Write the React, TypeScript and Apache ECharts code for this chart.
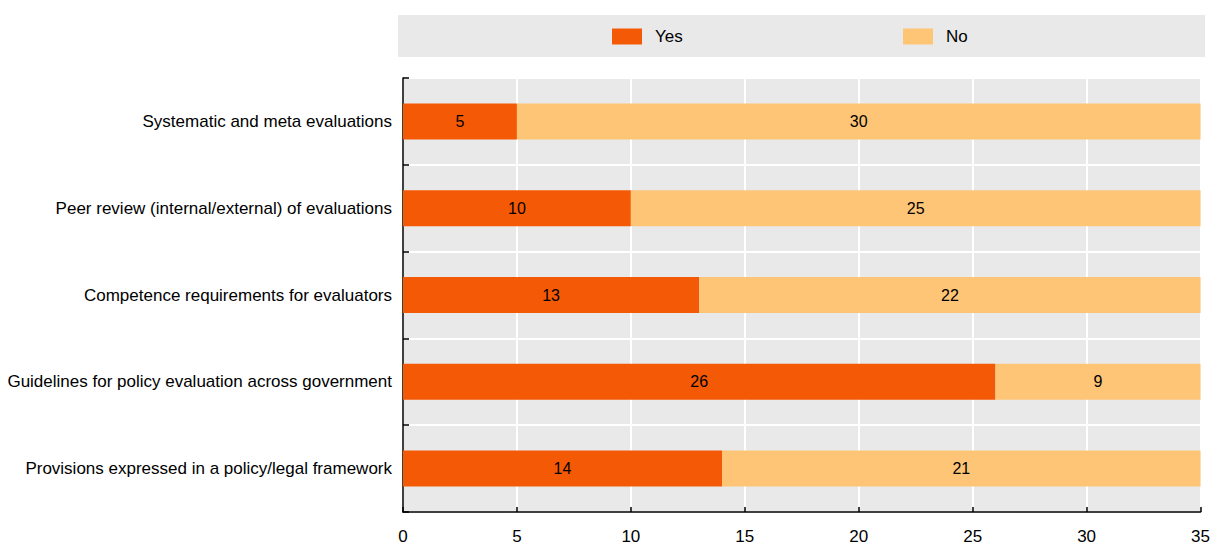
import React, { useEffect, useRef } from "react";
import * as echarts from "echarts";

const categories = [
  "Systematic and meta evaluations",
  "Peer review (internal/external) of evaluations",
  "Competence requirements for evaluators",
  "Guidelines for policy evaluation across government",
  "Provisions expressed in a policy/legal framework",
];
const yesValues = [5, 10, 13, 26, 14];
const noValues = [30, 25, 22, 9, 21];

const FONT = "'Liberation Sans Narrow', 'Arial Narrow', 'Liberation Sans', sans-serif";
const YES_COLOR = "#F45905";
const NO_COLOR = "#FEC577";

const legendText = {
  fontFamily: FONT,
  fontSize: 17,
  color: "#000",
  padding: [0, 0, 0, 8],
};

export default function App() {
  const ref = useRef<HTMLDivElement>(null);

  useEffect(() => {
    document.body.style.margin = "0";
    if (!ref.current) return;
    const chart = echarts.init(ref.current, undefined, { renderer: "svg" });
    chart.setOption({
      animation: false,
      textStyle: { fontFamily: FONT },
      graphic: [
        {
          type: "rect",
          left: 398,
          top: 15,
          shape: { width: 807, height: 42 },
          style: { fill: "#E9E9E9" },
          z: -1,
        },
      ],
      legend: [
        {
          data: ["Yes"],
          left: 612,
          top: 28,
          padding: 0,
          itemWidth: 30,
          itemHeight: 16,
          textStyle: legendText,
          icon: "rect",
        },
        {
          data: ["No"],
          left: 903,
          top: 28,
          padding: 0,
          itemWidth: 30,
          itemHeight: 16,
          textStyle: legendText,
          icon: "rect",
        },
      ],
      grid: {
        left: 403,
        right: 6,
        top: 78,
        bottom: 33,
        containLabel: false,
        show: true,
        backgroundColor: "#E9E9E9",
        borderWidth: 0,
      },
      xAxis: {
        type: "value",
        min: 0,
        max: 35,
        interval: 5,
        axisLine: { show: true, lineStyle: { color: "#000", width: 1.5 } },
        axisTick: { show: true, inside: true, length: 5, lineStyle: { color: "#000", width: 1.5 } },
        axisLabel: { color: "#000", fontSize: 17, margin: 16, fontFamily: FONT },
        splitLine: { show: true, lineStyle: { color: "#FFFFFF", width: 2 } },
      },
      yAxis: {
        type: "category",
        inverse: true,
        data: categories,
        axisLine: { show: true, lineStyle: { color: "#000", width: 1.5 } },
        axisTick: { show: true, inside: true, length: 6, lineStyle: { color: "#000", width: 1.5 } },
        axisLabel: { color: "#000", fontSize: 17, margin: 11, fontFamily: FONT },
        splitLine: { show: true, lineStyle: { color: "#FFFFFF", width: 2 } },
      },
      series: [
        {
          name: "Yes",
          type: "bar",
          stack: "total",
          data: yesValues,
          barWidth: 36,
          itemStyle: { color: YES_COLOR },
          label: { show: true, position: "inside", color: "#000", fontSize: 16, fontFamily: FONT },
        },
        {
          name: "No",
          type: "bar",
          stack: "total",
          data: noValues,
          barWidth: 36,
          itemStyle: { color: NO_COLOR },
          label: { show: true, position: "inside", color: "#000", fontSize: 16, fontFamily: FONT },
        },
      ],
    });
    return () => chart.dispose();
  }, []);

  return <div ref={ref} style={{ width: 1213, height: 545 }} />;
}
